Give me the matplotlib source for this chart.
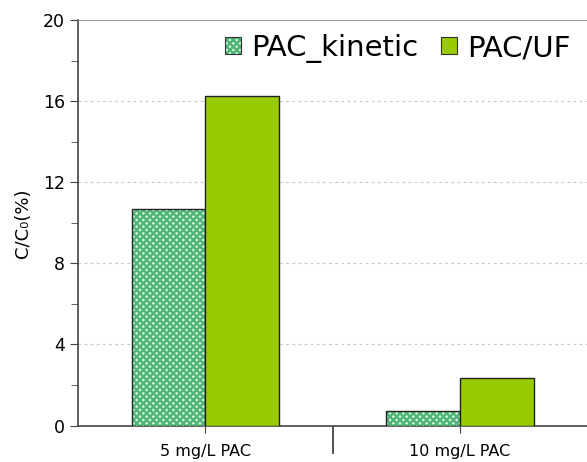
import matplotlib
matplotlib.use("Agg")
import matplotlib.pyplot as plt
from matplotlib.legend_handler import HandlerTuple
import numpy as np

### data ###
groups = ["5 mg/L PAC", "10 mg/L PAC"]
pac_kinetic = [10.68, 0.73]
pac_uf = [16.25, 2.33]
series_names = ["PAC_kinetic", "PAC/UF"]

### style ###
plt.rcParams['font.family'] = ['DejaVu Sans']
plt.rcParams['hatch.linewidth'] = 1.7

kin_face = '#d2f5d8'
kin_hatch = '#4fb576'
uf_face = '#99cc00'

fig = plt.figure(figsize=(5.87, 4.62), dpi=100)
ax = fig.add_axes([0.1334, 0.079, 0.8666, 0.8777])

x = np.arange(len(groups))
w = 0.29

# hatched bar: fill + hatch first, then outline on top
ax.bar(x - w/2, pac_kinetic, w, facecolor=kin_face, edgecolor=kin_hatch,
       hatch='xxxxx', linewidth=0, zorder=3)
ax.bar(x - w/2, pac_kinetic, w, facecolor='none', edgecolor='#222222',
       linewidth=1.0, zorder=4)
ax.bar(x + w/2, pac_uf, w, facecolor=uf_face, edgecolor='#222222',
       linewidth=1.0, zorder=4)

ax.set_xlim(-0.5, 1.5)
ax.set_ylim(0, 20)
ax.set_yticks([0, 4, 8, 12, 16, 20])
ax.set_yticks([2, 6, 10, 14, 18], minor=True)
ax.set_xticks(x)
ax.set_xticklabels(groups, fontsize=11.5)
ax.set_xticks([0.5], minor=True)
ax.tick_params(axis='y', which='major', labelsize=12.5, length=6, color='#444444')
ax.tick_params(axis='y', which='minor', length=5, color='#444444')
ax.tick_params(axis='x', which='major', length=5, color='#444444', pad=8)
ax.tick_params(axis='x', which='minor', length=20, width=1.2, color='#333333')

for yv in [4, 8, 12, 16]:
    ax.axhline(yv, color='#c8c8c8', linestyle=(0, (2.5, 3)), linewidth=0.8, zorder=1)

ax.spines['left'].set_color('#444444')
ax.spines['bottom'].set_color('#444444')
ax.spines['top'].set_color('#999999')
ax.spines['right'].set_visible(False)
ax.spines['left'].set_linewidth(1.2)
ax.spines['bottom'].set_linewidth(1.2)

ax.set_ylabel("C/C₀(%)", fontsize=13, labelpad=8)

# legend proxies (hatch layer + outline layer overlaid)
h1a = plt.Rectangle((0, 0), 1, 1, facecolor=kin_face, edgecolor=kin_hatch,
                    hatch='xxxxx', linewidth=0)
h1b = plt.Rectangle((0, 0), 1, 1, facecolor='none', edgecolor='#333333',
                    linewidth=0.8)
h2 = plt.Rectangle((0, 0), 1, 1, facecolor=uf_face, edgecolor='#333333',
                   linewidth=0.8)
leg = ax.legend([(h1a, h1b), h2], series_names, ncol=2, frameon=False,
                fontsize=21, loc='upper right', bbox_to_anchor=(1.0, 1.005),
                handler_map={tuple: HandlerTuple(ndivide=1, pad=0)},
                handlelength=0.55, handleheight=0.55, handletextpad=0.35,
                columnspacing=0.8, borderaxespad=0.15)

fig.savefig("out.png", dpi=100)
